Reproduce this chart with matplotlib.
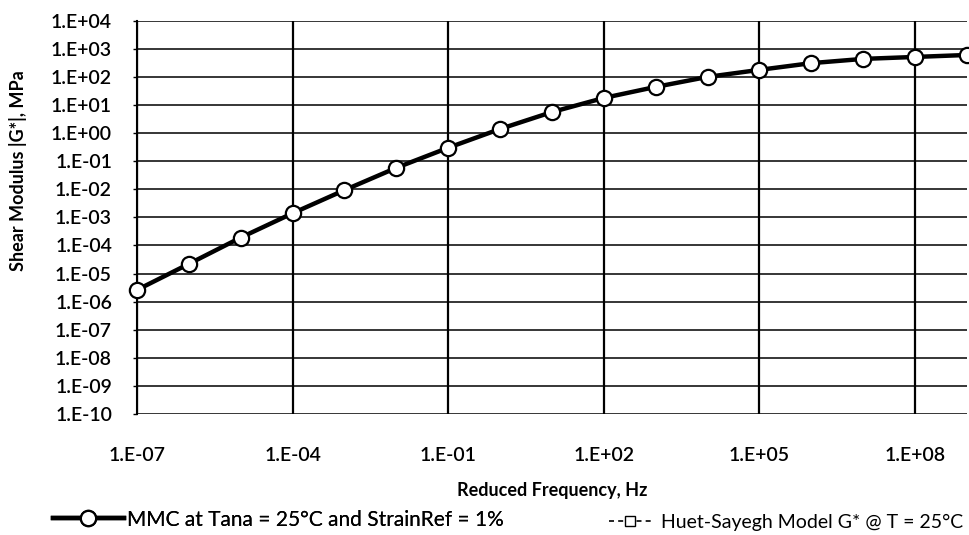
import numpy as np
import matplotlib
matplotlib.use('Agg')
import matplotlib.pyplot as plt
from matplotlib.lines import Line2D
from matplotlib.ticker import FixedLocator, FuncFormatter, NullLocator

plt.rcParams['font.family'] = ['Lato', 'DejaVu Sans']

# reduced frequency, Hz (one point per decade)
freq = [1e-7, 1e-6, 1e-5, 1e-4, 1e-3, 1e-2, 1e-1, 1e0, 1e1, 1e2,
        1e3, 1e4, 1e5, 1e6, 1e7, 1e8, 1e9]
# |G*| in MPa
g_mmc = [2.6e-6, 2.2e-5, 1.9e-4, 1.4e-3, 9.3e-3, 5.8e-2, 0.30, 1.4, 5.6, 17.8,
         44, 100, 178, 309, 437, 513, 603]

x_ticks = [1e-7, 1e-4, 1e-1, 1e2, 1e5, 1e8]
y_ticks = [10.0 ** k for k in range(-10, 5)]

label_mmc = 'MMC at Tana = 25°C and StrainRef = 1%'
label_model = 'Huet-Sayegh Model G* @ T = 25°C'


def sci_fmt(v, pos):
    e = int(round(np.log10(v)))
    return '1.E%s%02d' % ('+' if e >= 0 else '-', abs(e))


fig = plt.figure(figsize=(9.7, 5.35), dpi=100)
ax = fig.add_axes([0.1412, 0.2262, 0.8557, 0.7351])

ax.plot(freq, g_mmc, color='black', lw=3.2, marker='o', markersize=11,
        markerfacecolor='white', markeredgecolor='black', markeredgewidth=1.6,
        zorder=5, clip_on=False)

ax.set_xscale('log')
ax.set_yscale('log')
ax.set_xlim(1e-7, 1e9)
ax.set_ylim(1e-10, 1e4)

ax.xaxis.set_major_locator(FixedLocator(x_ticks))
ax.xaxis.set_minor_locator(NullLocator())
ax.yaxis.set_major_locator(FixedLocator(y_ticks))
ax.yaxis.set_minor_locator(NullLocator())
ax.xaxis.set_major_formatter(FuncFormatter(sci_fmt))
ax.yaxis.set_major_formatter(FuncFormatter(sci_fmt))

ax.tick_params(axis='x', length=0, pad=24, labelsize=14)
ax.tick_params(axis='y', length=3, width=1, pad=15, labelsize=14, direction='out')
for lab in ax.get_xticklabels() + ax.get_yticklabels():
    lab.set_fontweight('semibold')

ax.grid(True, axis='y', which='major', color='black', lw=1.1)
ax.grid(True, axis='x', which='major', color='black', lw=1.6)
ax.set_axisbelow(True)
for s in ['top', 'right', 'bottom']:
    ax.spines[s].set_visible(False)
ax.spines['left'].set_linewidth(1.5)

ax.set_xlabel('Reduced Frequency, Hz', fontsize=13, fontweight='bold', labelpad=13)
ax.set_ylabel('Shear Modulus |G*|, MPa', fontsize=13, fontweight='bold')
ax.yaxis.set_label_coords(-0.132, 0.62)

h1 = Line2D([], [], color='black', lw=3.2, marker='o', markersize=11,
            markerfacecolor='white', markeredgecolor='black', markeredgewidth=1.6)
h2 = Line2D([], [], color='black', lw=1.2, ls=(0, (3, 2.5)), marker='s', markersize=7,
            markerfacecolor='white', markeredgecolor='black')
leg1 = fig.legend([h1], [label_mmc], loc='lower left',
                  bbox_to_anchor=(0.035, -0.025), frameon=False, fontsize=15,
                  handlelength=3.4, handletextpad=0.15)
fig.legend([h2], [label_model], loc='lower right',
           bbox_to_anchor=(1.011, -0.025), frameon=False, fontsize=14,
           handlelength=2.2, handletextpad=0.5)
fig.add_artist(leg1)

fig.savefig('out.png', dpi=100)
